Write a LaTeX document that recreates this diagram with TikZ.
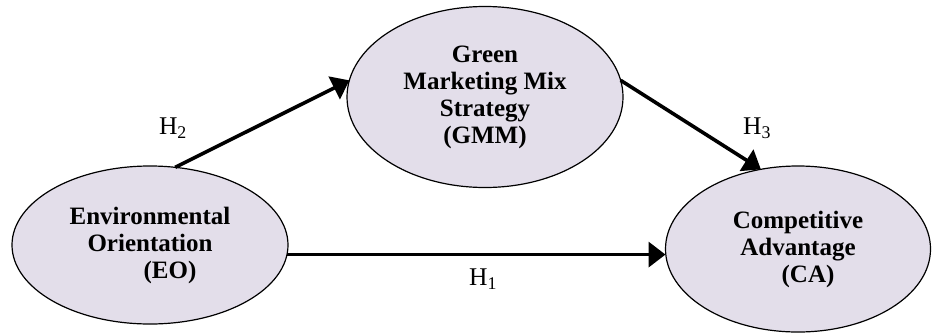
\documentclass[tikz,border=0pt]{standalone}
\usepackage{fontspec}
\setmainfont{Liberation Serif}
\usetikzlibrary{positioning,shapes.geometric,arrows.meta}

\begin{document}
\begin{tikzpicture}[x=1pt,y=-1pt]
  % some colors
  \definecolor{bubble}{RGB}{227,222,234}
  % some styles
  \tikzset{
    construct/.style={
      ellipse,
      inner sep=0mm,
      outer sep=0mm,
      align=center,
      font=\fontsize{25}{27}\selectfont\bfseries,
      draw=black,
      fill=bubble,
      line width=1.2pt,
    },
    link/.style={black, line width=3.6pt, -{Triangle[length=17pt,width=25pt]}},
    hyp/.style={font=\fontsize{25.5}{27}\selectfont, inner sep=0mm},
  }
  \useasboundingbox (0,0) rectangle (933,335);
  % the three constructs
  \node[construct, minimum width=276, minimum height=158] (eo) at (150,245)
    {Environmental\\Orientation\\\hspace*{1.6em}(EO)};
  \node[construct, minimum width=276, minimum height=181] (gmm) at (485,97)
    {Green\\Marketing Mix\\Strategy\\(GMM)};
  \node[construct, minimum width=265, minimum height=166] (ca) at (798,249)
    {Competitive\\Advantage\\\hspace*{0.8em}(CA)};
  % hypotheses
  \draw[link] (eo.72) -- (gmm.173);
  \draw[link] (gmm.7) -- (ca.115);
  \draw[link] (eo.-4) -- (eo.-4 -| ca.west);
  \node[hyp] (h1) at (483,279) {H\textsubscript{1}};
  \node[hyp] (h2) at (173,128) {H\textsubscript{2}};
  \node[hyp] (h3) at (757,128) {H\textsubscript{3}};
\end{tikzpicture}
\end{document}
